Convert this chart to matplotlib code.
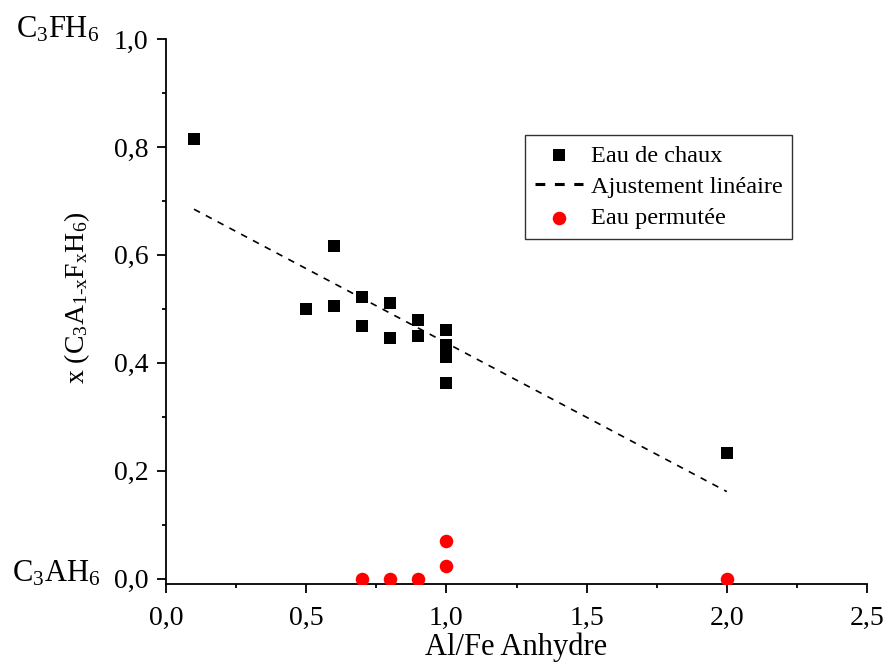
import numpy as np
import matplotlib
matplotlib.use('Agg')
import matplotlib.pyplot as plt
from matplotlib.ticker import MultipleLocator, FuncFormatter
from matplotlib.lines import Line2D

plt.rcParams['font.family'] = ['Liberation Serif', 'DejaVu Serif']
plt.rcParams['mathtext.fontset'] = 'custom'
plt.rcParams['mathtext.rm'] = 'Liberation Serif'
plt.rcParams['mathtext.it'] = 'Liberation Serif'

# Eau de chaux
x_chaux = [0.1, 0.5, 0.6, 0.6, 0.7, 0.7, 0.8, 0.8, 0.9, 0.9, 1.0, 1.0, 1.0, 1.0, 2.0]
y_chaux = [0.815, 0.500, 0.617, 0.505, 0.522, 0.469, 0.510, 0.445, 0.480, 0.450,
           0.460, 0.432, 0.410, 0.363, 0.233]

# Eau permutee
x_perm = [0.7, 0.8, 0.9, 1.0, 1.0, 2.0]
y_perm = [0.0, 0.0, 0.0, 0.070, 0.024, 0.0]

# linear fit over the lime water points
a, b = np.polyfit(x_chaux, y_chaux, 1)
x_fit = np.array([0.1, 2.0])
y_fit = a * x_fit + b

fig = plt.figure(figsize=(8.85, 6.65), dpi=100)
ax = fig.add_axes([166/885, 1 - 584/665, (867-166)/885, (584-39)/665])

h1 = ax.scatter(x_chaux, y_chaux, marker='s', s=70, color='black', linewidths=0,
                zorder=3)
ax.plot(x_fit, y_fit, linestyle=(0, (4, 4)), color='black', lw=1.2)
h3 = ax.scatter(x_perm, y_perm, marker='o', s=95, color='red', linewidths=0,
                zorder=3)
# legend proxy: three thick dashes like the original
h2 = Line2D([], [], color='black', lw=2.2, linestyle=(0, (3.2, 3.15)))

ax.set_xlim(0, 2.5)
ax.set_ylim(-0.01, 1.0)
ax.spines['top'].set_visible(False)
ax.spines['right'].set_visible(False)
for sp in ax.spines.values():
    sp.set_linewidth(1.3)

ax.xaxis.set_major_locator(MultipleLocator(0.5))
ax.xaxis.set_minor_locator(MultipleLocator(0.25))
ax.yaxis.set_major_locator(MultipleLocator(0.2))
ax.yaxis.set_minor_locator(MultipleLocator(0.1))
comma = FuncFormatter(lambda v, p: ('%.1f' % v).replace('.', ','))
ax.xaxis.set_major_formatter(comma)
ax.yaxis.set_major_formatter(comma)
ax.tick_params(which='major', direction='out', length=6.5, width=1.3, labelsize=20)
ax.tick_params(axis='x', which='major', pad=9)
ax.tick_params(axis='y', which='major', pad=6)
ax.tick_params(which='minor', direction='out', length=3, width=1.3)

ax.set_xlabel('Al/Fe Anhydre', fontsize=22)
ax.xaxis.set_label_coords(0.5, (584 - 632) / 545)
ax.set_ylabel(r'x (C$_3$A$_{1\text{-}x}$F$_x$H$_6$)', fontsize=20)
ax.yaxis.set_label_coords((92 - 166) / 701, (584 - 298) / 545)

fig.text(16/885, 1 - 37/665, r'C$_3$FH$_6$', fontsize=22, va='baseline', ha='left')
fig.text(12/885, 1 - 582/665, r'C$_3$AH$_6$', fontsize=22, va='baseline', ha='left')

leg = ax.legend([h1, h2, h3], ['Eau de chaux', 'Ajustement linéaire', 'Eau permutée'],
                loc='upper left', bbox_to_anchor=((525-166)/701, (584-135)/545),
                fontsize=17.5, frameon=True, fancybox=False, edgecolor='black',
                borderpad=0.4, handlelength=2.0, handletextpad=0.3,
                labelspacing=0.38, borderaxespad=0)
leg.get_frame().set_linewidth(1.0)

fig.savefig('out.png', dpi=100)
